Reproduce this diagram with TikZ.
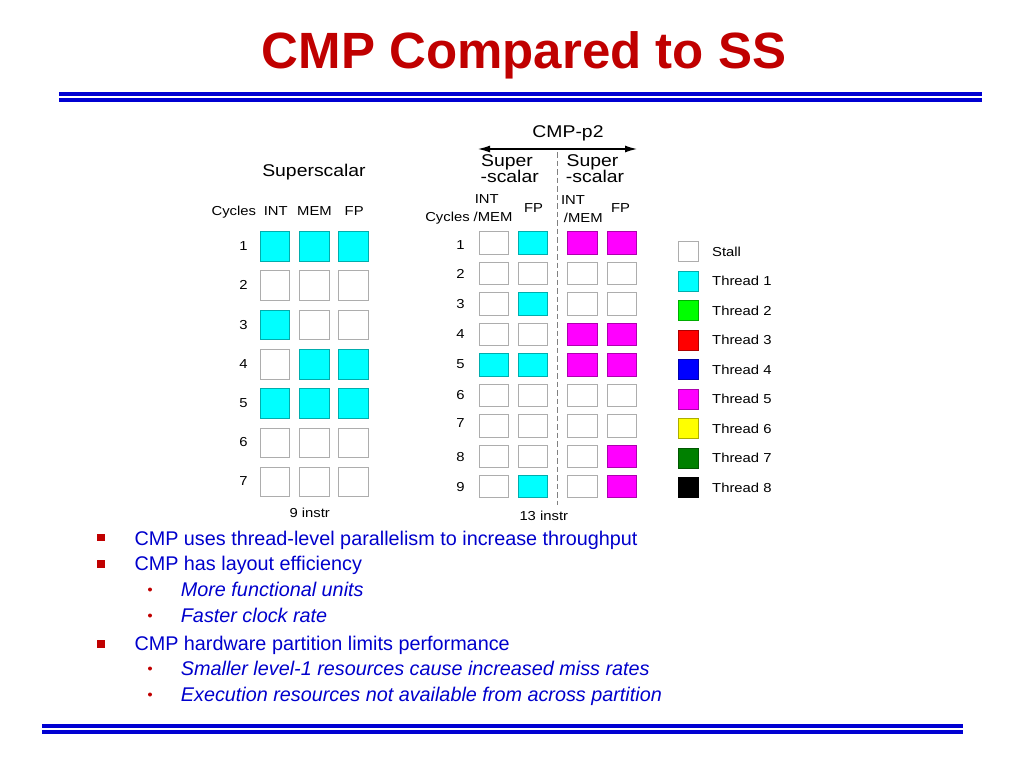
\documentclass[tikz,border=0pt]{standalone}
\usepackage{fontspec}
\setmainfont{Liberation Sans}
\newfontfamily\dgfont[FakeStretch=1.14]{Liberation Sans}
\usetikzlibrary{arrows.meta}
\definecolor{ttlred}{RGB}{192,0,0}
\definecolor{txtblue}{RGB}{0,0,204}
\definecolor{lineblue}{RGB}{0,0,210}
\definecolor{tone}{RGB}{0,255,255}
\definecolor{ttwo}{RGB}{0,255,0}
\definecolor{tthree}{RGB}{255,0,0}
\definecolor{tfour}{RGB}{0,0,255}
\definecolor{tfive}{RGB}{255,0,255}
\definecolor{tsix}{RGB}{255,255,0}
\definecolor{tseven}{RGB}{0,128,0}
\definecolor{teight}{RGB}{0,0,0}
\begin{document}
\begin{tikzpicture}[x=1bp,y=-1bp,
  ttl/.style={font=\fontsize{51bp}{60bp}\selectfont\bfseries, text=ttlred, inner sep=0, text height=36.5bp, text depth=0pt},
  hdr/.style={font=\dgfont\fontsize{17bp}{20bp}\selectfont, inner sep=0, text height=12.2bp, text depth=0pt},
  lab/.style={font=\dgfont\fontsize{13bp}{15bp}\selectfont, inner sep=0, text height=9.3bp, text depth=0pt},
  bul/.style={font=\fontsize{19.8bp}{24bp}\selectfont, text=txtblue, inner sep=0, text height=14.2bp, text depth=0pt, anchor=west},
  sub/.style={bul, font=\fontsize{19.8bp}{24bp}\selectfont\itshape},
  cellL/.style={fill=#1, draw=#1!68!black, line width=0.8bp, minimum width=29.5bp, minimum height=29.5bp, inner sep=0},
  cellR/.style={fill=#1, draw=#1!68!black, line width=0.8bp, minimum width=29.5bp, minimum height=22.5bp, inner sep=0},
  legbox/.style={fill=#1, draw=#1!68!black, line width=0.8bp, minimum width=20bp, minimum height=20bp, inner sep=0},
  sqbullet/.style={fill=ttlred, minimum width=7.5bp, minimum height=7.5bp, inner sep=0},
  dotbullet/.style={fill=ttlred, circle, minimum size=4bp, inner sep=0},
  rule/.style={draw=lineblue, line width=3.2bp},
  arr/.style={line width=1.2bp, {Latex[length=12bp,width=7bp]}-{Latex[length=12bp,width=7bp]}},
  sep/.style={draw=black!50, line width=1.3bp, dash pattern=on 5.5bp off 3bp}
]
\useasboundingbox (0,0) rectangle (1024,768);

% title and rules
\node[ttl] (title) at (524,50.5) {CMP Compared to SS};
\draw[rule] (59,94) -- (982,94);
\draw[rule] (59,100) -- (982,100);
\draw[rule] (42,726) -- (963,726);
\draw[rule] (42,732) -- (963,732);

% left superscalar
\node[hdr] (ssl) at (314,170.8) {Superscalar};
\node[lab] (cycL) at (233.8,211.3) {Cycles};
\node[lab] (intL) at (275.8,211.3) {INT};
\node[lab] (memL) at (314.5,211.3) {MEM};
\node[lab] (fpL) at (354.2,211.3) {FP};
\foreach \r/\yy/\ly/\fa/\fb/\fc in {
  1/246.3/245.5/tone/tone/tone,
  2/285.6/285/white/white/white,
  3/324.9/325/tone/white/white,
  4/364.2/364/white/tone/tone,
  5/403.5/403/tone/tone/tone,
  6/442.8/442/white/white/white,
  7/482.1/481/white/white/white}{
  \node[lab] (nL\r) at (243.5,\ly) {\r};
  \node[cellL=\fa] (L\r a) at (275,\yy) {};
  \node[cellL=\fb] (L\r b) at (314.3,\yy) {};
  \node[cellL=\fc] (L\r c) at (353.6,\yy) {};
}
\node[lab] (nineL) at (309.7,513.3) {9 instr};

% right CMP
\node[hdr] (cmp) at (568,131) {CMP-p2};
\coordinate (al) at (478,149);
\coordinate (ar) at (637,149);
\draw[arr] (al) -- (ar);
\node[hdr] (sup1) at (507,160.5) {Super};
\node[hdr] (sca1) at (509.7,176) {-scalar};
\node[hdr] (sup2) at (592.5,160.5) {Super};
\node[hdr] (sca2) at (595,176) {-scalar};
\coordinate (dt) at (557.7,152);
\coordinate (db) at (557.7,505);
\draw[sep] (dt) -- (db);
\node[lab] (cycR) at (447.5,217.2) {Cycles};
\node[lab] (int1) at (486.7,199) {INT};
\node[lab] (mem1) at (493,217) {/MEM};
\node[lab] (fp1) at (533.5,207.8) {FP};
\node[lab] (int2) at (573,199.5) {INT};
\node[lab] (mem2) at (583.3,217.5) {/MEM};
\node[lab] (fp2) at (620.5,207.8) {FP};
\foreach \r/\yy/\ly/\fa/\fb/\fc/\fd in {
  1/243/245/white/tone/tfive/tfive,
  2/273.45/274/white/white/white/white,
  3/303.9/304/white/tone/white/white,
  4/334.35/334/white/white/tfive/tfive,
  5/364.8/364/tone/tone/tfive/tfive,
  6/395.25/394.7/white/white/white/white,
  7/425.7/422.5/white/white/white/white,
  8/456.15/456.7/white/white/white/tfive,
  9/486.6/486.7/white/tone/white/tfive}{
  \node[lab] (nR\r) at (460.5,\ly) {\r};
  \node[cellR=\fa] (R\r a) at (494,\yy) {};
  \node[cellR=\fb] (R\r b) at (533,\yy) {};
  \node[cellR=\fc] (R\r c) at (582.5,\yy) {};
  \node[cellR=\fd] (R\r d) at (622,\yy) {};
}
\node[lab] (thirteen) at (543.8,515.7) {13 instr};

% legend
\foreach \i/\col/\txt in {0/white/Stall, 1/tone/Thread 1, 2/ttwo/Thread 2, 3/tthree/Thread 3,
  4/tfour/Thread 4, 5/tfive/Thread 5, 6/tsix/Thread 6, 7/tseven/Thread 7, 8/teight/Thread 8}{
  \node[legbox=\col] (lg\i) at (688.3,{251.7+29.5*\i}) {};
  \node[lab, anchor=west] (lt\i) at (712,{251.7+29.5*\i}) {\txt};
}

% bullets
\node[sqbullet] (b1) at (101,537.5) {};
\node[bul] (t1) at (134.3,538) {CMP uses thread-level parallelism to increase throughput};
\node[sqbullet] (b2) at (101,564) {};
\node[bul] (t2) at (134.3,563.2) {CMP has layout efficiency};
\node[dotbullet] (d1) at (150,589.5) {};
\node[sub] (s1) at (180.7,589.7) {More functional units};
\node[dotbullet] (d2) at (150,615.5) {};
\node[sub] (s2) at (180.7,615.5) {Faster clock rate};
\node[sqbullet] (b3) at (101,644) {};
\node[bul] (t3) at (134.3,643.7) {CMP hardware partition limits performance};
\node[dotbullet] (d3) at (150,668.5) {};
\node[sub] (s3) at (180.7,668.3) {Smaller level-1 resources cause increased miss rates};
\node[dotbullet] (d4) at (150,694.5) {};
\node[sub] (s4) at (180.7,694.3) {Execution resources not available from across partition};
\end{tikzpicture}
\end{document}
